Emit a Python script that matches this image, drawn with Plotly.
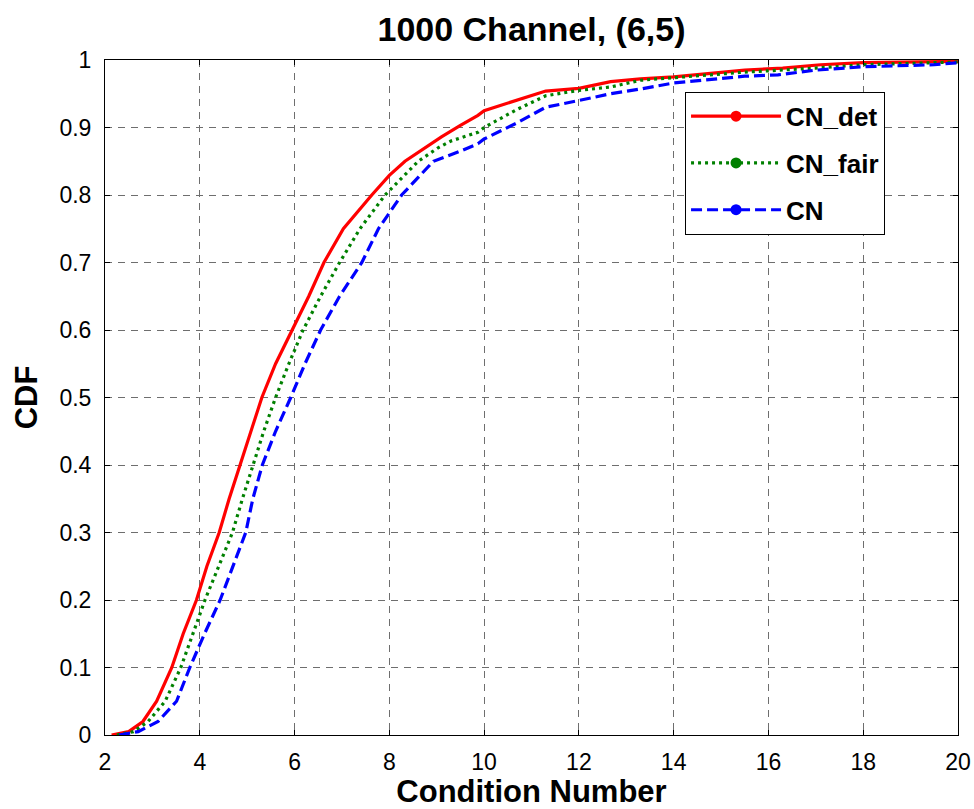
import plotly.graph_objects as go

# CN_det (red, solid)
det_x = [2.14, 2.5, 2.8, 3.09, 3.41, 3.65, 3.93, 4.15, 4.41, 4.62, 4.85, 5.08, 5.31, 5.6, 5.95,
         6.3, 6.62, 7.03, 7.63, 8.0, 8.33, 8.88, 9.1, 9.5, 9.87, 10.0, 10.7, 11.3, 12.0, 12.67,
         13.3, 14.0, 15.5, 16.3, 17.1, 18.0, 20.0]
det_y = [0.0, 0.005, 0.02, 0.05, 0.1, 0.15, 0.2, 0.25, 0.3, 0.35, 0.4, 0.45, 0.5, 0.55, 0.6,
         0.65, 0.7, 0.75, 0.8, 0.829, 0.85, 0.876, 0.886, 0.903, 0.918, 0.925, 0.94, 0.954, 0.958, 0.968,
         0.972, 0.975, 0.985, 0.988, 0.993, 0.996, 0.998]

# CN_fair (green, dotted)
fair_x = [2.25, 2.6, 2.91, 3.27, 3.6, 3.85, 4.11, 4.4, 4.69, 4.9, 5.12, 5.35, 5.6, 5.88, 6.18,
          6.55, 6.95, 7.38, 7.91, 8.61, 9.03, 9.3, 9.87, 10.0, 10.7, 11.3, 12.0, 12.67, 13.3,
          14.0, 15.5, 17.0, 18.0, 20.0]
fair_y = [0.0, 0.005, 0.02, 0.05, 0.1, 0.15, 0.2, 0.25, 0.3, 0.35, 0.4, 0.45, 0.5, 0.55, 0.6,
          0.65, 0.7, 0.75, 0.8, 0.85, 0.87, 0.88, 0.893, 0.9, 0.927, 0.947, 0.955, 0.96, 0.97,
          0.974, 0.982, 0.988, 0.993, 0.997]

# CN (blue, dashed)
cn_x = [2.3, 2.7, 3.12, 3.51, 3.79, 4.1, 4.43, 4.7, 4.97, 5.12, 5.32, 5.6, 5.92, 6.22, 6.55,
        6.95, 7.42, 7.77, 8.26, 8.93, 9.5, 9.87, 10.0, 10.7, 11.3, 12.0, 12.67, 13.3, 14.0,
        15.5, 16.2, 17.0, 18.0, 19.5, 20.0]
cn_y = [0.0, 0.005, 0.02, 0.05, 0.1, 0.15, 0.2, 0.25, 0.3, 0.35, 0.4, 0.45, 0.5, 0.55, 0.6,
        0.65, 0.7, 0.75, 0.8, 0.85, 0.865, 0.876, 0.883, 0.907, 0.93, 0.94, 0.95, 0.957, 0.966,
        0.976, 0.978, 0.985, 0.99, 0.993, 0.996]

x_ticks = [2, 4, 6, 8, 10, 12, 14, 16, 18, 20]
y_ticks = [0, 0.1, 0.2, 0.3, 0.4, 0.5, 0.6, 0.7, 0.8, 0.9, 1]
y_tick_text = ["0", "0.1", "0.2", "0.3", "0.4", "0.5", "0.6", "0.7", "0.8", "0.9", "1"]

series = [
    ("CN_det", det_x, det_y, "#ff0000", "solid"),
    ("CN_fair", fair_x, fair_y, "#008000", "3px,4px"),
    ("CN", cn_x, cn_y, "#0000ff", "11px,5px"),
]

FONT = "Liberation Sans, Arial, sans-serif"

fig = go.Figure()
for name, xs, ys, col, dash in series:
    fig.add_trace(go.Scatter(x=xs, y=ys, mode="lines", name=name, showlegend=False,
                             line=dict(color=col, width=3.2, dash=dash)))
for name, xs, ys, col, dash in series:
    fig.add_trace(go.Scatter(x=[None], y=[None], mode="lines+markers", name="<b>" + name + "</b>",
                             legendgroup=name,
                             line=dict(color=col, width=3.2, dash=dash),
                             marker=dict(color=col, size=11)))

axis_common = dict(
    showline=True, linecolor="black", linewidth=1, mirror="ticks",
    ticks="inside", ticklen=5, tickcolor="black",
    showgrid=True, gridcolor="#6e6e6e", gridwidth=1, griddash="7px,6px",
    zeroline=False, automargin=False,
    tickfont=dict(family=FONT, size=23, color="black"),
)

fig.update_layout(
    width=974, height=809,
    margin=dict(l=105, r=16, t=60, b=74),
    paper_bgcolor="white", plot_bgcolor="white",
    title=dict(text="<b>1000 Channel, (6,5)</b>", x=0.5, xref="paper", xanchor="center",
               y=1 - 29 / 809, yref="container", yanchor="middle",
               font=dict(family=FONT, size=34, color="black")),
    xaxis=dict(range=[2, 20], tickvals=x_ticks, ticktext=[str(v) for v in x_ticks],
               title=dict(text="<b>Condition Number</b>", standoff=8,
                          font=dict(family=FONT, size=31, color="black")),
               ticklabelstandoff=6, **axis_common),
    yaxis=dict(range=[0, 1], tickvals=y_ticks, ticktext=y_tick_text,
               title=dict(text="<b>CDF</b>", standoff=12,
                          font=dict(family=FONT, size=31, color="black")),
               ticklabelstandoff=8, **axis_common),
    legend=dict(x=0.68, y=0.953, xanchor="left", yanchor="top",
                bgcolor="white", bordercolor="black", borderwidth=1,
                font=dict(family=FONT, size=26, color="black"),
                itemwidth=90, tracegroupgap=10),
    showlegend=True,
)

fig.write_html("out.html")
